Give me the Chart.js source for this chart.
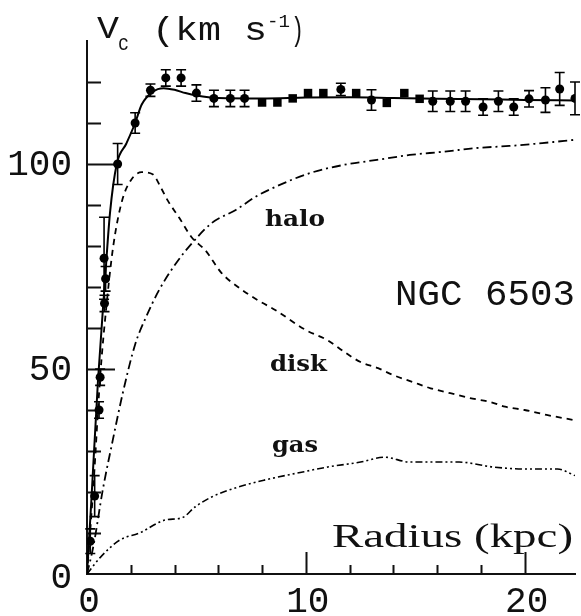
<!DOCTYPE html>
<html>
<head>
<meta charset="utf-8">
<script src="https://cdn.jsdelivr.net/npm/chart.js@4/dist/chart.umd.min.js"></script>
<style>
  html, body { margin: 0; padding: 0; background: #fff; }
</style>
</head>
<body>
<canvas id="c" width="581" height="616"></canvas>
<script>
// observed rotation curve (kpc, km/s, error)
const obsR   = [0.15, 0.35, 0.55, 0.6, 0.8, 0.85, 0.78, 1.4, 2.2, 2.9, 3.6, 4.3, 5.0, 5.8, 6.55, 7.2, 8.0, 8.7, 9.4, 10.1, 10.8, 11.6, 12.3, 13.0, 13.7, 14.5, 15.2, 15.8, 16.6, 17.3, 18.1, 18.8, 19.5, 20.2, 20.95, 21.6, 22.3];
const obsV   = [8, 19, 40, 48, 66, 72, 77, 100, 110, 118, 121, 121, 117.3, 116, 116, 116, 115, 115, 116, 117.3, 117.3, 118.2, 117.3, 115.6, 114.9, 117.3, 115.9, 115.3, 115.3, 115.3, 113.9, 115.3, 113.9, 115.9, 115.6, 118.3, 116];
const obsErr = [3, 5, 2, 2, 2, 3, 10, 5, 2.5, 1.5, 2, 2, 2, 2, 2, 2, 0.5, 0.5, 0.5, 0.5, 0.5, 1.5, 0.5, 2.5, 0.5, 0.5, 0.5, 2.5, 2.5, 2.5, 2, 2.5, 2, 2, 3, 4, 4];

// model components
const totR  = [0, 0.2, 0.5, 0.8, 1.05, 1.36, 1.8, 2.2, 2.5, 3.0, 3.5, 4.0, 4.5, 5.0, 6, 8, 10, 12, 14, 16, 18, 20, 22.3];
const totV  = [0, 18, 47, 70, 88, 100, 105, 110, 114.5, 117.6, 118.5, 118.1, 117.3, 116.7, 116.1, 116, 116.2, 116.3, 116.1, 115.9, 115.8, 115.6, 115.5];

const diskR = [0, 0.3, 0.6, 0.9, 1.2, 1.6, 2.0, 2.5, 3.0, 3.4, 3.7, 4.2, 4.8, 5.4, 6.15, 6.9, 7.8, 8.6, 10, 11, 11.8, 12.5, 13.3, 14, 14.9, 15.7, 16.6, 17.5, 18.4, 19.1, 20, 21, 22.3];
const diskV = [0, 22, 48, 66, 80, 91, 96, 98, 97.5, 94, 91, 87, 82, 79, 73.4, 70, 66.8, 64.4, 59.5, 57, 54, 51.7, 50.2, 48.5, 46.8, 45.3, 44.1, 42.9, 42, 40.8, 40, 38.8, 37.5];

const haloR = [0, 0.3, 0.72, 1.18, 1.63, 2.2, 2.7, 3.3, 4.07, 4.8, 5.7, 6.8, 7.7, 8.6, 10.2, 11.75, 13.25, 14.75, 16.3, 17.8, 19.3, 20.8, 22.3];
const haloV = [0, 7, 20.5, 32.7, 44, 56, 62.7, 69.3, 75.8, 80.7, 85.6, 88.8, 92, 94.4, 97.8, 99.8, 101, 102.2, 103, 103.9, 104.4, 105.1, 105.9];

const gasR  = [0, 0.6, 1.5, 2.4, 3.6, 4.34, 4.95, 5.7, 6.9, 8.1, 9.6, 11.0, 12.5, 13.6, 14.75, 17, 18.55, 20, 21.5, 22.3];
const gasV  = [0, 4, 8.3, 10, 13.2, 13.7, 16.4, 18.8, 21.2, 22.9, 24.6, 26.1, 27.3, 28.5, 27.3, 27.3, 26.1, 25.6, 25.6, 24];

// axes
const yTickVals  = [10, 20, 30, 40, 50, 60, 70, 80, 90, 100, 110, 120];
const yLabelVals = [0, 50, 100];
const xTickVals  = [2, 4, 6, 8, 10, 12, 14, 16, 18, 20];
const xLabelVals = [0, 10, 20];

const xy = (xs, ys) => xs.map((x, i) => ({ x, y: ys[i] }));

function fitText(ctx, text, x0, x1, base, font) {
  ctx.save();
  ctx.font = font;
  const w = ctx.measureText(text).width;
  ctx.translate(x0, base);
  ctx.scale((x1 - x0) / w, 1);
  ctx.textAlign = 'left';
  ctx.textBaseline = 'alphabetic';
  ctx.fillText(text, 0, 0);
  ctx.restore();
}

const decor = {
  id: 'decor',
  beforeDatasetsDraw(chart) {
    const { ctx, chartArea: a, scales: { x, y } } = chart;
    ctx.save();
    ctx.strokeStyle = '#111';
    ctx.lineWidth = 2;
    ctx.beginPath();
    yTickVals.forEach(v => {
      const py = Math.round(y.getPixelForValue(v)) + 0.5;
      const len = yLabelVals.includes(v) ? 28 : 14;
      ctx.moveTo(a.left, py); ctx.lineTo(a.left + len, py);
    });
    xTickVals.forEach(v => {
      const px = Math.round(x.getPixelForValue(v)) + 0.5;
      const len = xLabelVals.includes(v) ? 22 : 9;
      ctx.moveTo(px, a.bottom); ctx.lineTo(px, a.bottom - len);
    });
    ctx.stroke();
    ctx.restore();
  },
  afterDatasetsDraw(chart) {
    const { ctx, scales: { x, y } } = chart;
    ctx.save();
    ctx.strokeStyle = '#000';
    ctx.lineWidth = 1.6;
    ctx.beginPath();
    obsR.forEach((r, i) => {
      if (obsErr[i] < 1) return;
      const px = x.getPixelForValue(r);
      const top = y.getPixelForValue(obsV[i] + obsErr[i]);
      const bot = y.getPixelForValue(obsV[i] - obsErr[i]);
      ctx.moveTo(px, top); ctx.lineTo(px, bot);
      ctx.moveTo(px - 5, top); ctx.lineTo(px + 5, top);
      ctx.moveTo(px - 5, bot); ctx.lineTo(px + 5, bot);
    });
    ctx.stroke();
    ctx.restore();
  },
  afterDraw(chart) {
    const { ctx, chartArea: a, scales: { x, y } } = chart;
    ctx.save();
    ctx.fillStyle = '#111';
    ctx.font = '36px "Liberation Mono"';
    ctx.textBaseline = 'middle';
    ctx.textAlign = 'right';
    yLabelVals.forEach(v => {
      ctx.fillText(String(v), a.left - 15, y.getPixelForValue(v) + (v === 0 ? 4 : 1));
    });
    ctx.textAlign = 'center';
    ctx.textBaseline = 'alphabetic';
    xLabelVals.forEach(v => {
      ctx.fillText(String(v), x.getPixelForValue(v) + 2, a.bottom + 38);
    });

    // axis title
    fitText(ctx, 'V', 97, 119, 38, '32px "Liberation Mono"');
    fitText(ctx, 'c', 118, 129, 50, '22px "Liberation Mono"');
    fitText(ctx, '(km s', 152, 267, 40, '34px "Liberation Mono"');
    fitText(ctx, '-1', 267, 290, 27, '18px "Liberation Mono"');
    fitText(ctx, ')', 291, 304, 40, '34px "Liberation Mono"');

    fitText(ctx, 'NGC 6503', 395, 575, 305, '36px "Liberation Mono"');
    fitText(ctx, 'Radius (kpc)', 332, 573, 547, '33px "Liberation Serif"');

    fitText(ctx, 'halo', 265, 325, 226, 'bold 23px "DejaVu Serif"');
    fitText(ctx, 'disk', 270, 327, 371, 'bold 23px "DejaVu Serif"');
    fitText(ctx, 'gas', 272, 318, 452, 'bold 23px "DejaVu Serif"');
    ctx.restore();
  }
};

const line = (data, dash, w) => ({
  data, borderColor: '#000', borderWidth: w, borderDash: dash,
  pointRadius: 0, fill: false, cubicInterpolationMode: 'monotone'
});

new Chart(document.getElementById('c'), {
  type: 'line',
  data: {
    datasets: [
      line(xy(totR, totV), [], 2),
      line(xy(diskR, diskV), [6, 5], 1.8),
      line(xy(haloR, haloV), [9, 4, 2, 4], 1.8),
      line(xy(gasR, gasV), [7, 3, 2, 3, 2, 3], 1.6),
      {
        type: 'scatter', data: xy(obsR, obsV), showLine: false,
        backgroundColor: '#000', borderColor: '#000', borderWidth: 0,
        pointStyle: c => obsErr[c.dataIndex] < 1 ? 'rect' : 'circle',
        pointRadius: c => obsErr[c.dataIndex] < 1 ? 6 : 4.5
      }
    ]
  },
  options: {
    responsive: false,
    animation: false,
    layout: { padding: { left: 0, right: 1, top: 41, bottom: 0 } },
    plugins: { legend: { display: false }, tooltip: { enabled: false } },
    scales: {
      x: {
        type: 'linear', min: 0, max: 22.3,
        grid: { display: false, drawTicks: false },
        border: { display: true, color: '#111', width: 2 },
        ticks: { display: false },
        afterFit: s => { s.height = 42; }
      },
      y: {
        type: 'linear', min: 0, max: 130,
        grid: { display: false, drawTicks: false },
        border: { display: true, color: '#111', width: 2 },
        ticks: { display: false },
        afterFit: s => { s.width = 87; }
      }
    }
  },
  plugins: [decor]
});
</script>
</body>
</html>
